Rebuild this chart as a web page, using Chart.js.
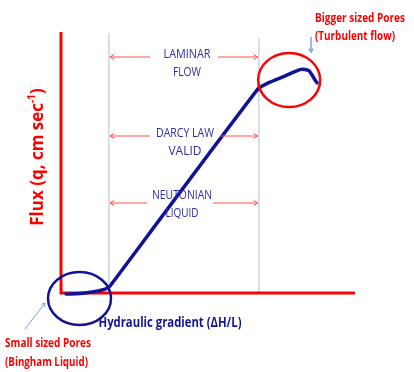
<!DOCTYPE html>
<html>
<head>
<meta charset="utf-8">
<script src="https://cdn.jsdelivr.net/npm/chart.js@4/dist/chart.umd.min.js"></script>
<style>
  body { margin: 0; background: #fff; }
  #wrap { width: 414px; height: 372px; }
</style>
</head>
<body>
<div id="wrap"><canvas id="myChart"></canvas></div>
<script>
// flux curve (x 0..10, y 0..10 units)
const gradient = [0.17, 0.65, 1.16, 1.50, 1.67, 1.77, 6.70, 7.11, 7.55, 7.89, 8.13, 8.30, 8.44, 8.54, 8.64, 8.71];
const flux = [-0.04, -0.02, 0.06, 0.15, 0.27, 0.42, 7.82, 8.08, 8.28, 8.45, 8.56, 8.56, 8.51, 8.35, 8.16, 8.05];
// where the laminar region starts and ends
const regionEdges = [1.63, 6.73];
const regionLabels = [['LAMINAR', 'FLOW'], ['DARCY LAW', 'VALID'], ['NEUTONIAN', 'LIQUID']];

const NAVY = 'rgb(18,18,150)';
const TEXTBLUE = 'rgb(45,45,165)';
const RED = 'rgb(255,0,0)';
const PALEBLUE = 'rgb(200,214,234)';
const ARROWBLUE = 'rgb(130,165,210)';
const FONT = '"Open Sans", Roboto, sans-serif';

let points = [];
for (let i = 0; i < gradient.length; i++) {
  points.push({x: gradient[i], y: flux[i]});
}

// text squeezed to a width so it looks like the narrow original font
function fitText(ctx, txt, x, y, w, font, color) {
  ctx.save();
  ctx.font = font;
  ctx.fillStyle = color;
  ctx.textBaseline = 'middle';
  ctx.textAlign = 'center';
  let m = ctx.measureText(txt).width;
  let s = Math.min(1, w / m);
  ctx.translate(x, y);
  ctx.scale(s, 1);
  ctx.fillText(txt, 0, 0);
  ctx.restore();
}

function arrowHead(ctx, x, y, ang, size) {
  ctx.beginPath();
  ctx.moveTo(x - size * Math.cos(ang - 0.55), y - size * Math.sin(ang - 0.55));
  ctx.lineTo(x, y);
  ctx.lineTo(x - size * Math.cos(ang + 0.55), y - size * Math.sin(ang + 0.55));
  ctx.stroke();
}

function arrow(ctx, x1, y1, x2, y2, color, width, size) {
  ctx.save();
  ctx.strokeStyle = color;
  ctx.lineWidth = width;
  ctx.beginPath();
  ctx.moveTo(x1, y1);
  ctx.lineTo(x2, y2);
  ctx.stroke();
  arrowHead(ctx, x2, y2, Math.atan2(y2 - y1, x2 - x1), size);
  ctx.restore();
}

const backPlugin = {
  id: 'back',
  beforeDatasetsDraw(chart) {
    const ctx = chart.ctx;
    const xs = chart.scales.x, ys = chart.scales.y;
    const x0 = xs.getPixelForValue(0), y0 = ys.getPixelForValue(0);
    ctx.save();
    // region edges
    ctx.strokeStyle = PALEBLUE;
    ctx.lineWidth = 1.5;
    ctx.beginPath();
    ctx.moveTo(xs.getPixelForValue(regionEdges[0]), ys.getPixelForValue(9.96));
    ctx.lineTo(xs.getPixelForValue(regionEdges[0]), y0);
    ctx.moveTo(xs.getPixelForValue(regionEdges[1]), ys.getPixelForValue(9.77));
    ctx.lineTo(xs.getPixelForValue(regionEdges[1]), y0);
    ctx.stroke();
    // axes
    ctx.strokeStyle = RED;
    ctx.lineWidth = 3;
    ctx.beginPath();
    ctx.moveTo(x0, ys.getPixelForValue(10));
    ctx.lineTo(x0, y0);
    ctx.lineTo(xs.getPixelForValue(10), y0);
    ctx.stroke();
    ctx.restore();
  },
  afterDatasetsDraw(chart) {
    const ctx = chart.ctx;
    const xs = chart.scales.x, ys = chart.scales.y;
    ctx.save();
    // circles round the two ends of the curve
    ctx.lineWidth = 2.5;
    ctx.strokeStyle = RED;
    ctx.beginPath();
    ctx.ellipse(xs.getPixelForValue(7.76), ys.getPixelForValue(8.16), 31, 27, 0, 0, Math.PI * 2);
    ctx.stroke();
    ctx.strokeStyle = NAVY;
    ctx.beginPath();
    ctx.ellipse(xs.getPixelForValue(0.63), ys.getPixelForValue(-0.21), 31.5, 26.5, 0, 0, Math.PI * 2);
    ctx.stroke();
    ctx.restore();

    // region labels with arrows to both edges
    const rows = [[55, 73, 57, 150, 218], [134, 152, 136, 150, 220], [196, 214, 203, 147, 213]];
    const xl = xs.getPixelForValue(regionEdges[0]), xr = xs.getPixelForValue(regionEdges[1]);
    const widths = [[47, 28], [58, 34], [60, 33]];
    const cx = [187, 185, 182];
    for (let i = 0; i < rows.length; i++) {
      let r = rows[i];
      fitText(ctx, regionLabels[i][0], cx[i], r[0], widths[i][0], '12px ' + FONT, TEXTBLUE);
      fitText(ctx, regionLabels[i][1], cx[i], r[1], widths[i][1], '12px ' + FONT, TEXTBLUE);
      arrow(ctx, r[3], r[2], xl + 1, r[2], 'rgb(255,80,80)', 1, 5);
      arrow(ctx, r[4], r[2], xr - 1, r[2], 'rgb(255,80,80)', 1, 5);
    }

    // callouts
    fitText(ctx, 'Bigger sized Pores', 360, 18, 90, 'bold 12.5px ' + FONT, RED);
    fitText(ctx, '(Turbulent flow)', 355, 36, 80, 'bold 12.5px ' + FONT, RED);
    arrow(ctx, 311, 37, 311, 52, ARROWBLUE, 1.5, 4);
    fitText(ctx, 'Small sized Pores', 48, 343, 86, 'bold 12.5px ' + FONT, RED);
    fitText(ctx, '(Bingham Liquid)', 46.5, 362, 83, 'bold 12.5px ' + FONT, RED);
    arrow(ctx, 25, 329, 45, 303, ARROWBLUE, 1, 4);

    // axis titles
    fitText(ctx, 'Hydraulic gradient (\u0394H/L)', 170, 323, 143, 'bold 13.5px ' + FONT, NAVY);
    ctx.save();
    ctx.translate(38, 157);
    ctx.rotate(-Math.PI / 2);
    ctx.font = 'bold 17px ' + FONT;
    ctx.fillStyle = RED;
    ctx.textAlign = 'left';
    ctx.textBaseline = 'middle';
    let main = 'Flux (q, cm sec', sup = '-1', close = ')';
    let w1 = ctx.measureText(main).width;
    ctx.font = 'bold 10px ' + FONT;
    let w2 = ctx.measureText(sup).width;
    ctx.font = 'bold 17px ' + FONT;
    let w3 = ctx.measureText(close).width;
    let total = w1 + w2 + w3;
    let s = Math.min(1, 141 / total);
    ctx.scale(s, 1);
    let start = -total / 2;
    ctx.fillText(main, start, 0);
    ctx.font = 'bold 10px ' + FONT;
    ctx.fillText(sup, start + w1, -6);
    ctx.font = 'bold 17px ' + FONT;
    ctx.fillText(close, start + w1 + w2, 0);
    ctx.restore();
  }
};

const data = {
  datasets: [{
    label: 'Flux',
    data: points,
    borderColor: NAVY,
    borderWidth: 3.5,
    pointRadius: 0,
    tension: 0.15,
    fill: false,
    clip: false,
    borderJoinStyle: 'round',
    borderCapStyle: 'round'
  }]
};

const config = {
  type: 'line',
  data: data,
  options: {
    responsive: true,
    maintainAspectRatio: false,
    animation: false,
    layout: {
      padding: {left: 61, right: 59, top: 32, bottom: 79}
    },
    scales: {
      x: {type: 'linear', min: 0, max: 10, display: false},
      y: {type: 'linear', min: 0, max: 10, display: false}
    },
    plugins: {
      legend: {display: false},
      tooltip: {enabled: false}
    }
  },
  plugins: [backPlugin]
};

const myChart = new Chart(document.getElementById('myChart'), config);
</script>
</body>
</html>
